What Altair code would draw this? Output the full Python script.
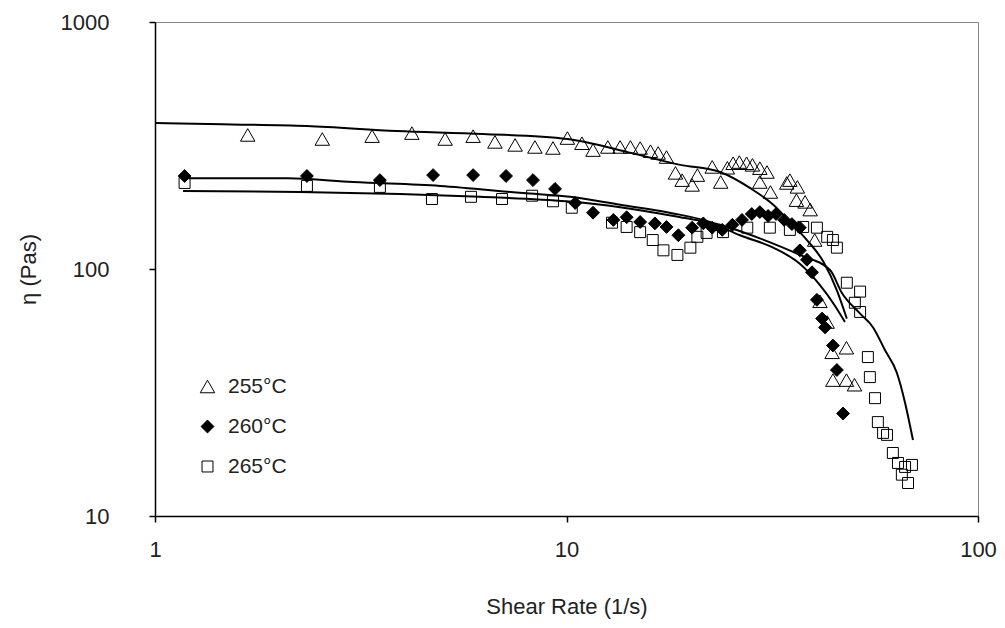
import altair as alt
import pandas as pd

series_names = ["255°C", "260°C", "265°C"]

# 255 °C (open triangles)
rate_255 = [1.68, 2.55, 3.37, 4.21, 5.07, 5.93, 6.70, 7.50, 8.38, 9.27, 10.05, 10.9, 11.6, 12.6,
            13.5, 14.3, 15.1, 16.0, 16.7, 17.5, 18.4, 19.1, 20.2, 20.8, 22.6, 23.7, 24.6, 25.4,
            26.3, 27.4, 28.3, 29.5, 30.7, 29.5, 31.3, 34.3, 34.9, 36.4, 36.2, 38.0, 39.1, 40.1,
            41.3, 43.0, 44.2, 47.9, 44.4, 47.9, 50.1]
eta_255 = [349, 336, 345, 355, 336, 345, 327, 318, 312, 309, 339, 323, 303, 312,
           312, 312, 309, 300, 295, 284, 245, 229, 219, 240, 259, 225, 257, 268,
           271, 268, 264, 256, 247, 225, 205, 223, 229, 215, 190, 187, 174, 131,
           74, 61, 46, 48, 35.5, 35.5, 34]

# 260 °C (filled diamonds)
rate_260 = [1.18, 2.34, 3.52, 4.74, 5.93, 7.13, 8.29, 9.38, 10.5, 11.6, 13.0, 14.0, 15.1, 16.4,
            17.5, 18.7, 20.2, 21.5, 22.6, 23.9, 25.3, 26.7, 28.2, 29.5, 30.9, 32.3, 33.8, 35.3,
            36.9, 36.9, 38.4, 39.5, 40.6, 41.8, 42.5, 44.4, 45.4, 47.0]
eta_260 = [238, 238, 229, 240, 240, 238, 229, 211, 185, 169, 158, 162, 155, 153,
           148, 137, 147, 153, 147, 144, 151, 158, 167, 170, 164, 167, 158, 152,
           147, 119, 109, 97, 75, 63, 58, 49, 39, 26]

# 265 °C (open squares)
rate_265 = [1.18, 2.34, 3.52, 4.71, 5.86, 6.97, 8.25, 9.27, 10.3, 12.9, 14.0, 15.1, 16.2, 17.2,
            18.6, 20.0, 20.8, 21.9, 24.0, 27.5, 31.2, 34.9, 37.6, 40.6, 43.0, 44.4, 45.4, 48.0,
            51.7, 50.2, 51.7, 54.0, 54.6, 56.2, 57.1, 58.8, 60.1, 62.1, 63.9, 66.5, 69.1, 67.6, 65.3]
eta_265 = [223, 217, 215, 192, 196, 192, 198, 188, 177, 154, 148, 141, 131, 119,
           114, 122, 135, 140, 141, 147, 147, 144, 148, 147, 135, 131, 122, 88,
           81, 73, 67, 44, 36.5, 30, 24, 21.7, 21.3, 18, 16.4, 15.8, 16.1, 13.6, 14.7]

# fitted curves
fit_rate_255 = [1.0, 1.35, 2.34, 3.87, 6.27, 10.05, 14.0, 18.9, 23.6, 27.9, 31.8, 34.9, 38.4, 42.1, 45.4, 48.0]
fit_eta_255 = [390, 386, 379, 362, 352, 336, 298, 264, 247, 213, 182, 155, 131, 107, 82, 63]

fit_rate_260 = [1.17, 2.10, 3.03, 4.93, 7.84, 10.2, 13.5, 17.8, 22.3, 26.4, 31.8, 36.9, 41.3, 44.9, 47.5]
fit_eta_260 = [233, 233, 225, 217, 203, 196, 182, 169, 155, 137, 122, 105, 86, 71, 61]

fit_rate_265 = [1.17, 2.25, 3.94, 6.16, 10.0, 13.5, 18.9, 23.6, 29.5, 36.9, 43.7, 46.7, 51.7, 55.6, 59.4, 63.5, 66.5, 69.5]
fit_eta_265 = [207, 205, 201, 196, 188, 178, 162, 151, 133, 114, 99, 80, 66, 58, 47, 38, 28.7, 20.3]

pts = pd.concat([
    pd.DataFrame({"rate": rate_255, "eta": eta_255, "series": series_names[0]}),
    pd.DataFrame({"rate": rate_260, "eta": eta_260, "series": series_names[1]}),
    pd.DataFrame({"rate": rate_265, "eta": eta_265, "series": series_names[2]}),
], ignore_index=True)

fits = pd.concat([
    pd.DataFrame({"rate": fit_rate_255, "eta": fit_eta_255, "series": series_names[0]}),
    pd.DataFrame({"rate": fit_rate_260, "eta": fit_eta_260, "series": series_names[1]}),
    pd.DataFrame({"rate": fit_rate_265, "eta": fit_eta_265, "series": series_names[2]}),
], ignore_index=True)

FONT = "Liberation Sans"

x_enc = alt.X("rate:Q",
              scale=alt.Scale(type="log", domain=[1, 100]),
              axis=alt.Axis(values=[1, 10, 100], format="~g", title="Shear Rate (1/s)",
                            grid=False, tickSize=6, labelPadding=17, titlePadding=36,
                            labelFlush=False))
y_enc = alt.Y("eta:Q",
              scale=alt.Scale(type="log", domain=[10, 1000]),
              axis=alt.Axis(values=[10, 100, 1000], format="~g", title="η (Pas)",
                            grid=False, tickSize=6, labelPadding=40, titlePadding=20,
                            labelFlush=False))

lines = alt.Chart(fits).mark_line(color="black", strokeWidth=2, interpolate="monotone").encode(
    x=x_enc, y=y_enc, detail="series:N"
)

leg = alt.Legend(title=None, orient="none", legendX=42, legendY=354, labelFontSize=21,
                 labelFont=FONT, labelColor="#222", rowPadding=18, labelOffset=10,
                 symbolStrokeColor="black", symbolStrokeWidth=1, padding=0)

points = alt.Chart(pts).mark_point(filled=True, strokeWidth=1, opacity=1).encode(
    x=x_enc, y=y_enc,
    shape=alt.Shape("series:N", scale=alt.Scale(domain=series_names,
                                                range=["triangle-up", "diamond", "square"]), legend=leg),
    fill=alt.Fill("series:N", scale=alt.Scale(domain=series_names,
                                              range=["transparent", "black", "transparent"]), legend=leg),
    stroke=alt.Stroke("series:N", scale=alt.Scale(domain=series_names,
                                                  range=["black", "black", "black"]), legend=leg),
    size=alt.Size("series:N", scale=alt.Scale(domain=series_names, range=[210, 120, 210]), legend=leg),
)

chart = alt.layer(lines, points).properties(
    width=823, height=494,
    autosize=alt.AutoSizeParams(type="none"),
    padding={"left": 155, "top": 22, "right": 27, "bottom": 112},
    background="white",
).configure_view(
    stroke="#888", strokeWidth=1
).configure_axis(
    domainColor="black", domainWidth=1.5, tickColor="black", tickWidth=1.5,
    labelFont=FONT, labelFontSize=22, labelColor="#222",
    titleFont=FONT, titleFontSize=22, titleColor="#222", titleFontWeight="normal",
)

chart.save("out.html", embed_options={"renderer": "svg", "actions": False})
